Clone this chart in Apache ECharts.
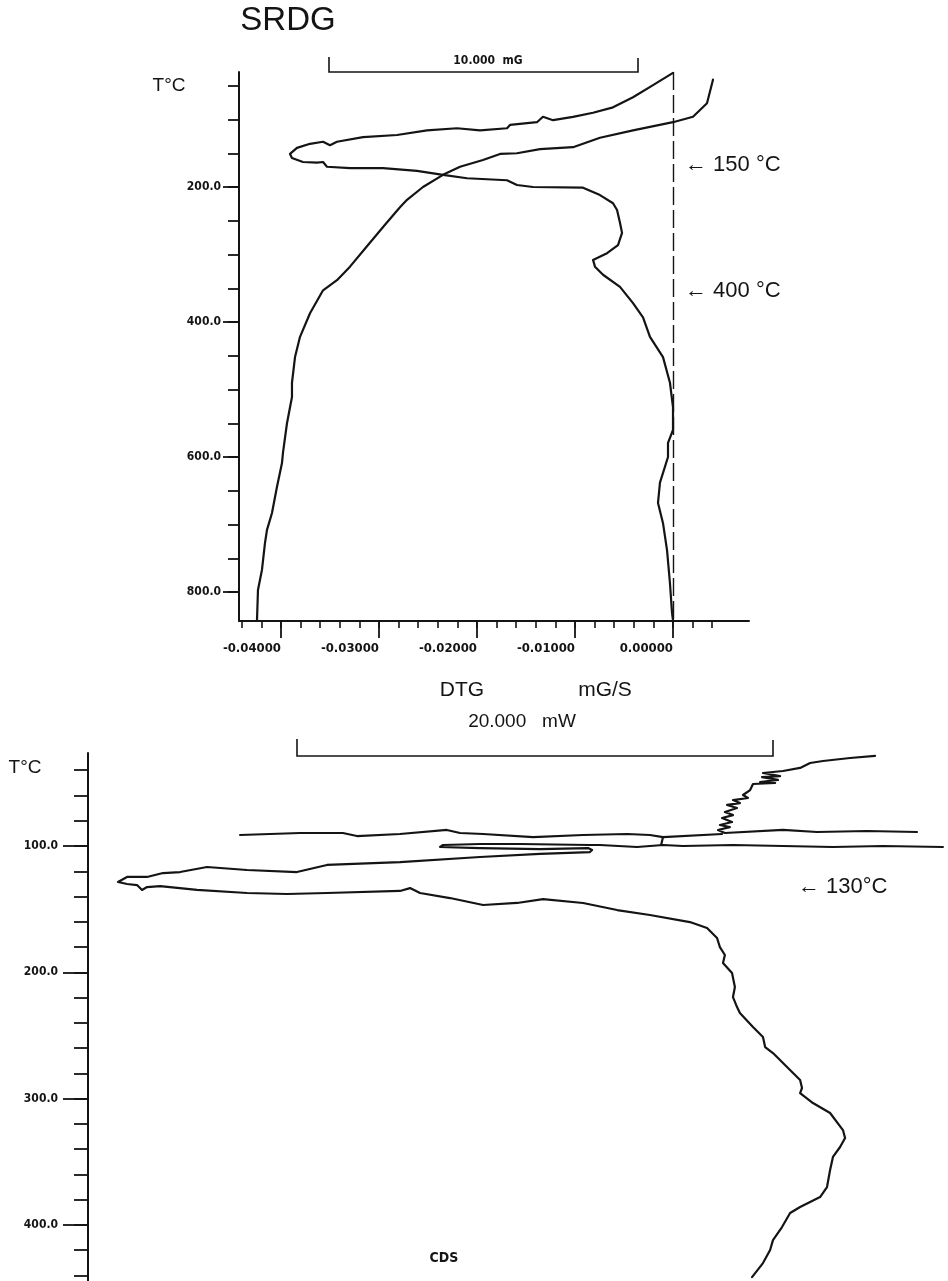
<!DOCTYPE html>
<html>
<head>
<meta charset="utf-8">
<script src="https://cdn.jsdelivr.net/npm/echarts@6/dist/echarts.min.js"></script>
<style>
html,body{margin:0;padding:0;background:#fff;}
#chart{width:948px;height:1281px;}
</style>
</head>
<body>
<div id="chart"></div>
<script>
// ---- SRDG (上图) ----
// DTG 曲线 [mG/S, T°C]
var dtgCurve = [
	[0.00000,31],[-0.00204,49],[-0.00408,67],[-0.00612,82],[-0.00816,90],[-0.01020,96],
	[-0.01224,101],[-0.01327,96],[-0.01388,104],[-0.01663,108],[-0.01694,113],[-0.01969,116],
	[-0.02204,113],[-0.02510,116],[-0.02816,123],[-0.03163,126],[-0.03429,133],[-0.03500,138],
	[-0.03571,133],[-0.03704,136],[-0.03837,142],[-0.03908,151],[-0.03888,157],[-0.03776,163],
	[-0.03633,164],[-0.03571,163],[-0.03531,170],[-0.03296,172],[-0.02959,172],[-0.02612,176],
	[-0.02347,182],[-0.02102,187],[-0.01694,190],[-0.01592,197],[-0.01429,200],[-0.00918,201],
	[-0.00745,212],[-0.00612,224],[-0.00571,234],[-0.00541,253],[-0.00520,268],[-0.00561,286],
	[-0.00673,298],[-0.00816,308],[-0.00796,318],[-0.00714,330],[-0.00541,348],[-0.00408,372],
	[-0.00306,393],[-0.00235,422],[-0.00102,452],[-0.00031,490],[0.00000,526],[0.00000,560],
	[-0.00051,579],[-0.00051,600],[-0.00133,638],[-0.00153,668],[-0.00102,698],[-0.00061,738],
	[-0.00031,787],[-0.00010,831],[0.00000,842]
];
// TG 曲线（同一坐标系内绘制）
var tgCurve = [
	[0.00408,41],[0.00347,76],[0.00204,96],[0.00000,104],[-0.00408,116],[-0.00745,127],
	[-0.01020,141],[-0.01357,144],[-0.01592,150],[-0.01765,151],[-0.01939,160],[-0.02173,170],
	[-0.02347,182],[-0.02551,200],[-0.02714,219],[-0.02786,230],[-0.02939,256],[-0.03112,286],
	[-0.03296,318],[-0.03429,338],[-0.03571,353],[-0.03704,387],[-0.03806,422],[-0.03857,452],
	[-0.03888,490],[-0.03888,511],[-0.03939,550],[-0.03980,594],[-0.03990,609],[-0.04041,644],
	[-0.04092,683],[-0.04143,708],[-0.04163,727],[-0.04194,767],[-0.04235,797],[-0.04245,842]
];
var dtgMinorTicks = [-0.044,-0.042,-0.040,-0.038,-0.036,-0.034,-0.032,-0.030,-0.028,-0.026,-0.024,
	-0.022,-0.020,-0.018,-0.016,-0.014,-0.012,-0.010,-0.008,-0.006,-0.004,-0.002,0.000,0.002,0.004];
var dtgMajorTicks = [-0.04,-0.03,-0.02,-0.01,0];
var topTMinorTicks = [50,100,150,200,250,300,350,400,450,500,550,600,650,700,750,800];
var topTMajorTicks = [200,400,600,800];

// ---- CDS (下图) ----
// [mW, T°C]
var cdsStart = [
	[33.07,28.7],[32.02,30.3],[30.88,32.7],[30.34,34.3],[29.92,38.2],[29.20,40.6],[28.36,42.2],
	[29.08,44.6],[28.32,45.4],[28.99,47.7],[28.24,49.3],[28.87,50.1],[27.94,50.9],[27.82,55.7],
	[27.52,59.6],[27.73,62.0],[27.10,63.6],[27.39,66.0],[26.85,67.5],[27.27,69.9],[26.76,73.1],
	[27.10,75.5],[26.64,77.8],[27.06,81.0],[26.55,83.4],[26.97,85.0],[26.47,87.3],[26.76,89.7],
	[29.20,87.3],[30.63,88.9],[32.73,88.1],[34.83,88.9]
];
var cdsUpperLeft = [
	[26.64,90.5],[24.16,92.9],[23.61,91.3],[22.65,90.5],[20.80,91.3],[18.70,92.9],[16.60,90.5],
	[15.63,89.7],[15.08,87.3],[13.11,90.5],[11.30,92.1],[10.71,89.7],[8.91,89.7],[6.39,91.3]
];
var cdsJoin = [[24.16,92.9],[24.08,99.2]];
var cdsMain = [
	[35.92,100.8],[33.40,100.0],[31.30,100.8],[29.20,100.0],[27.10,99.2],[25.00,100.0],[24.16,99.2],
	[23.07,100.8],[21.51,99.2],[21.09,99.2],[18.15,98.4],[16.47,98.4],[14.92,99.2],[14.79,100.8],
	[16.47,101.6],[18.99,102.4],[21.01,101.6],[21.18,103.2],[21.09,104.8],[18.99,106.3],[16.47,108.7],
	[13.11,112.7],[10.04,115.0],[8.78,120.6],[6.68,119.0],[5.00,116.6],[3.87,120.6],[3.15,121.4],
	[2.48,124.5],[1.64,124.5],[1.26,128.5],[1.64,130.1],[2.06,130.9],[2.27,134.8],[2.48,132.5],
	[3.03,131.7],[4.58,134.8],[6.68,137.2],[8.36,138.0],[10.04,137.2],[13.11,135.6],[13.53,133.3],
	[13.95,137.2],[15.21,141.2],[16.60,146.7],[18.03,145.1],[19.12,142.0],[20.80,145.1],[22.23,150.7],
	[23.61,154.6],[25.29,160.2],[26.01,164.9],[26.43,172.8],[26.55,180.0],[26.76,186.3],[26.68,192.6],
	[27.06,200.6],[27.18,211.6],[27.10,219.6],[27.27,227.5],[27.39,232.2],[27.94,243.3],[28.36,251.2],
	[28.45,259.2],[28.78,263.9],[29.37,275.0],[29.92,285.3],[30.00,291.6],[29.92,295.6],[30.46,303.5],
	[31.18,311.4],[31.72,324.9],[31.81,331.2],[31.60,338.3],[31.30,346.2],[31.18,356.5],[31.05,370.0],
	[30.76,377.9],[29.92,385.8],[29.50,390.6],[29.16,401.7],[28.78,412.0],[28.66,419.9],[28.36,430.2],
	[27.90,441.3]
];
var cdsTMinorTicks = [40,60,80,100,120,140,160,180,200,220,240,260,280,300,320,340,360,380,400,420,440];
var cdsTMajorTicks = [100,200,300,400];

var ink = '#141414';
var labelFont = '"DejaVu Sans Condensed","DejaVu Sans",sans-serif';
var noteFont = '"Liberation Sans Narrow","Liberation Sans",sans-serif';

function lineSeries(data, xi, yi, extra){
	var s = {
		type : 'line',
		xAxisIndex : xi,
		yAxisIndex : yi,
		data : data,
		showSymbol : false,
		symbol : 'none',
		silent : true,
		animation : false,
		lineStyle : { color : ink, width : 2.2, join : 'round', cap : 'round' }
	};
	if(extra){ for(var k in extra){ s[k] = extra[k]; } }
	return s;
}

function textEl(txt, x, y, font, align){
	return {
		type : 'text', x : x, y : y, silent : true,
		style : { text : txt, font : font, fill : ink, align : align || 'center', verticalAlign : 'middle' }
	};
}

function bracket(pts){
	return {
		type : 'polyline', silent : true,
		shape : { points : pts },
		style : { stroke : ink, lineWidth : 1.6, fill : null }
	};
}

var myChart = echarts.init(document.getElementById('chart'), null, {renderer : 'canvas'});
myChart.setOption({
	backgroundColor : '#fff',
	animation : false,
	grid : [
		{ left : 239, top : 72, width : 510, height : 549 },
		{ left : 88, top : 753, width : 860, height : 528 }
	],
	xAxis : [
		{
			type : 'value', gridIndex : 0, position : 'bottom', min : -0.044286, max : 0.0077551,
			axisLine : { onZero : false, lineStyle : { color : ink, width : 2 } },
			axisTick : { customValues : dtgMinorTicks, length : 7, lineStyle : { color : ink, width : 1.6 } },
			axisLabel : { show : false },
			splitLine : { show : false }
		},
		{
			type : 'value', gridIndex : 0, position : 'bottom', min : -0.044286, max : 0.0077551,
			axisLine : { show : false, onZero : false },
			axisTick : { customValues : dtgMajorTicks, length : 17, lineStyle : { color : ink, width : 1.8 } },
			axisLabel : {
				customValues : dtgMajorTicks, align : 'right', margin : 21,
				color : ink, fontFamily : labelFont, fontWeight : 'bold', fontSize : 13,
				formatter : function(v){ return v.toFixed(5); }
			},
			splitLine : { show : false }
		},
		{
			type : 'value', gridIndex : 1, min : 0, max : 36.134, show : false
		}
	],
	yAxis : [
		{
			type : 'value', gridIndex : 0, position : 'left', inverse : true, min : 29.63, max : 842.96,
			axisLine : { show : true, onZero : false, lineStyle : { color : ink, width : 2 } },
			axisTick : { show : true, customValues : topTMinorTicks, length : 11, lineStyle : { color : ink, width : 1.8 } },
			axisLabel : { show : false },
			splitLine : { show : false }
		},
		{
			type : 'value', gridIndex : 0, position : 'left', inverse : true, min : 29.63, max : 842.96,
			axisLine : { show : false, onZero : false },
			axisTick : { show : true, customValues : topTMajorTicks, length : 16, lineStyle : { color : ink, width : 1.8 } },
			axisLabel : {
				customValues : topTMajorTicks, margin : 18,
				color : ink, fontFamily : labelFont, fontWeight : 'bold', fontSize : 12,
				formatter : function(v){ return v.toFixed(1); }
			},
			splitLine : { show : false }
		},
		{
			type : 'value', gridIndex : 1, position : 'left', inverse : true, min : 26.36, max : 444.4,
			axisLine : { show : true, onZero : false, lineStyle : { color : ink, width : 2 } },
			axisTick : { show : true, customValues : cdsTMinorTicks, length : 14, lineStyle : { color : ink, width : 1.8 } },
			axisLabel : { show : false },
			splitLine : { show : false }
		},
		{
			type : 'value', gridIndex : 1, position : 'left', inverse : true, min : 26.36, max : 444.4,
			axisLine : { show : false, onZero : false },
			axisTick : { show : true, customValues : cdsTMajorTicks, length : 25, lineStyle : { color : ink, width : 1.8 } },
			axisLabel : {
				customValues : cdsTMajorTicks, margin : 30,
				color : ink, fontFamily : labelFont, fontWeight : 'bold', fontSize : 12,
				formatter : function(v){ return v.toFixed(1); }
			},
			splitLine : { show : false }
		}
	],
	series : [
		lineSeries(dtgCurve, 0, 0, {
			markLine : {
				silent : true, symbol : 'none', animation : false,
				label : { show : false },
				lineStyle : { color : ink, width : 1.4, type : [18, 5] },
				data : [ { xAxis : 0 } ]
			}
		}),
		lineSeries(tgCurve, 0, 0),
		lineSeries(cdsStart, 2, 2),
		lineSeries(cdsUpperLeft, 2, 2),
		lineSeries(cdsJoin, 2, 2),
		lineSeries(cdsMain, 2, 2)
	],
	graphic : [
		textEl('SRDG', 288, 21, '33px "Liberation Sans",sans-serif'),
		textEl('T°C', 169, 86, '19px "Liberation Sans",sans-serif'),
		bracket([[329,57],[329,72],[638,72],[638,58]]),
		textEl('10.000  mG', 488, 61, 'bold 12px ' + labelFont),
		textEl('← 150 °C', 685, 165, '22px ' + noteFont, 'left'),
		textEl('← 400 °C', 685, 291, '22px ' + noteFont, 'left'),
		textEl('DTG', 462, 690, '21px ' + noteFont),
		textEl('mG/S', 605, 690, '21px ' + noteFont),
		textEl('T°C', 25, 768, '19px "Liberation Sans",sans-serif'),
		bracket([[297,739],[297,756],[773,756],[773,740]]),
		textEl('20.000   mW', 522, 722, '19px ' + noteFont),
		textEl('← 130°C', 798, 887, '22px ' + noteFont, 'left'),
		textEl('CDS', 444, 1258, 'bold 14px ' + labelFont)
	]
});
</script>
</body>
</html>
